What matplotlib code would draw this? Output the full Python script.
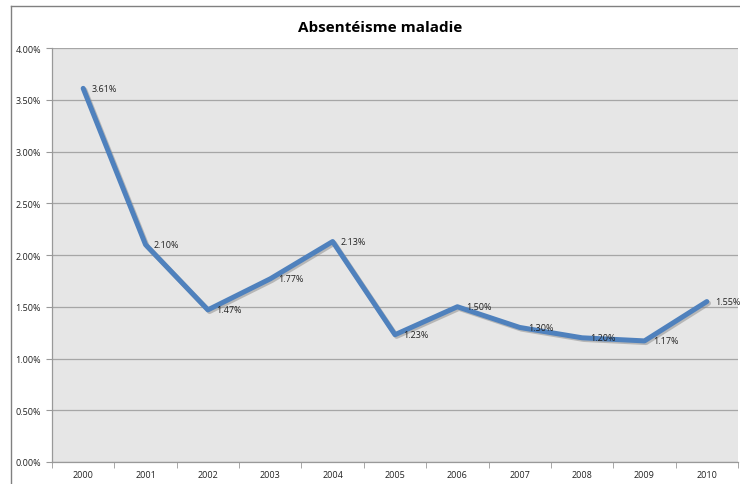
import matplotlib
matplotlib.use("Agg")
import matplotlib.pyplot as plt
import matplotlib.patheffects as pe
from matplotlib.lines import Line2D
from matplotlib.ticker import FuncFormatter, FixedLocator

years = ["2000", "2001", "2002", "2003", "2004", "2005", "2006", "2007", "2008", "2009", "2010"]
values = [3.61, 2.10, 1.47, 1.77, 2.13, 1.23, 1.50, 1.30, 1.20, 1.17, 1.55]
y_ticks = [0.0, 0.5, 1.0, 1.5, 2.0, 2.5, 3.0, 3.5, 4.0]

plt.rcParams["font.family"] = ["Open Sans", "DejaVu Sans"]

fig = plt.figure(figsize=(7.4, 4.85), dpi=100)
ax = fig.add_axes([52 / 740, 22 / 485, 686 / 740, 414 / 485])
ax.set_facecolor("#e6e6e6")

x = list(range(len(years)))
ax.plot(x, values, color="#4f81bd", lw=3.6, solid_capstyle="round",
        solid_joinstyle="round", zorder=3,
        path_effects=[pe.SimpleLineShadow(offset=(1.2, -1.2), shadow_color="#888888", alpha=0.5),
                      pe.Normal()])
for xi, v in zip(x, values):
    ax.annotate(f"{v:.2f}%", (xi, v), xytext=(6, 0), textcoords="offset points",
                va="center", ha="left", fontsize=6.5, color="#222222", zorder=4)

ax.set_xlim(-0.5, len(years) - 0.5)
ax.set_ylim(0, 4)
ax.set_yticks(y_ticks)
ax.yaxis.set_major_formatter(FuncFormatter(lambda v, p: f"{v:.2f}%"))
ax.set_xticks(x)
ax.set_xticklabels(years)
ax.xaxis.set_minor_locator(FixedLocator([i + 0.5 for i in range(-1, len(years))]))
ax.tick_params(axis="x", which="major", length=0, labelsize=6.5, pad=6, colors="#222222")
ax.tick_params(axis="x", which="minor", length=4, color="#999999")
ax.tick_params(axis="y", length=4, color="#999999", labelsize=6.5, pad=4, labelcolor="#222222")
ax.grid(axis="y", color="#a6a6a6", lw=0.9)
ax.set_axisbelow(True)
for s in ["top", "right"]:
    ax.spines[s].set_visible(False)
for s in ["left", "bottom"]:
    ax.spines[s].set_color("#999999")
    ax.spines[s].set_linewidth(0.9)

fig.text(380 / 740, 1 - 28 / 485, "Absentéisme maladie", ha="center", va="center",
         fontsize=11, fontweight="bold", color="#000000")

# outer chart border
fig.add_artist(Line2D([11 / 740, 11 / 740], [0, 1 - 7 / 485], color="#808080", lw=1,
                      transform=fig.transFigure))
fig.add_artist(Line2D([11 / 740, 1], [1 - 7 / 485, 1 - 7 / 485], color="#808080", lw=1,
                      transform=fig.transFigure))

fig.savefig("out.png", dpi=100)
